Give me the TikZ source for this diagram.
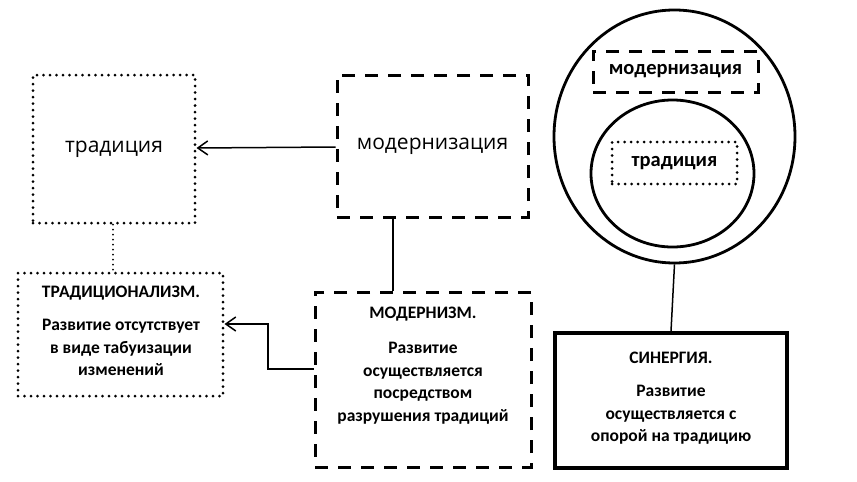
\documentclass[tikz,border=0pt]{standalone}
\usepackage{fontspec}
\setmainfont{Carlito}
\newfontfamily\osfont{Open Sans}
\usetikzlibrary{arrows.meta,shapes.geometric}
\tikzset{
  boxbase/.style={draw, rectangle, inner sep=0pt, align=center},
  dashbox/.style={boxbase, line width=3pt, dash pattern=on 13pt off 10pt},
  dotbox/.style={boxbase, line width=3pt, line cap=round, dash pattern=on 0pt off 6.5pt},
  solidbox/.style={boxbase, line width=3.5pt},
  ring/.style={draw, ellipse, line width=2.8pt, inner sep=0pt},
  conn/.style={line width=1.5pt},
  arr/.style={conn, -{Straight Barb[length=10pt,width=14pt,line width=1.5pt]}},
  dotconn/.style={line width=2pt, line cap=round, dash pattern=on 0pt off 5pt},
  bigtxt/.style={font=\osfont\fontsize{21}{25}\selectfont},
  desc/.style={font=\bfseries\fontsize{17.5}{22.5}\selectfont, align=center},
  smalltxt/.style={font=\bfseries\fontsize{20.5}{24}\selectfont},
}
\begin{document}
\begin{tikzpicture}[x=1pt,y=-1pt]
\useasboundingbox[fill=white] (0,0) rectangle (857,482);
% left column
\node[dotbox, minimum width=162pt, minimum height=148pt, bigtxt] (trad) at (114,149) {традиция};
\node[dashbox, minimum width=191pt, minimum height=142pt, bigtxt] (modz) at (432.5,146) {модернизация};
\node[dotbox, minimum width=205pt, minimum height=123pt] (tradism) at (120.5,334.5) {};
\node[desc] (tradismtxt) at (121,331) {ТРАДИЦИОНАЛИЗМ.\\[11pt]Развитие отсутствует\\в виде табуизации\\изменений};
\node[dashbox, minimum width=216pt, minimum height=175pt] (modernism) at (423,379.5) {};
\node[desc, anchor=north] (modernismtxt) at (423,303) {МОДЕРНИЗМ.\\[13pt]Развитие\\осуществляется\\посредством\\разрушения традиций};
% right column
\node[ring, minimum width=241pt, minimum height=253pt] (outer) at (674.5,136.5) {};
\node[ring, minimum width=163pt, minimum height=147pt] (inner) at (672.5,173.5) {};
\node[dashbox, minimum width=165pt, minimum height=41pt, smalltxt] (smodz) at (675.5,71.5) {модернизация};
\node[dotbox, minimum width=125pt, minimum height=42pt, smalltxt] (strad) at (674.5,163) {традиция};
\node[solidbox, minimum width=232pt, minimum height=135pt] (synergy) at (671,400.5) {};
\node[desc] (synergytxt) at (671,398) {СИНЕРГИЯ.\\[11pt]Развитие\\осуществляется с\\опорой на традицию};
% connectors
\draw[arr] ([yshift=-1pt]modz.west) -- ([yshift=1pt]trad.east);
\draw[dotconn] ([xshift=-1pt]trad.south) -- ([xshift=-1pt]trad.south |- tradism.north);
\draw[conn] ([xshift=-39.5pt]modz.south) -- ([xshift=-39.5pt]modz.south |- modernism.north);
\coordinate (elbow) at (268,369);
\draw[arr] ([yshift=10.5pt]modernism.west) -- (elbow) |- ([yshift=10.5pt]tradism.east);
\draw[conn] (outer.south) -- (synergy.north);
\end{tikzpicture}
\end{document}
